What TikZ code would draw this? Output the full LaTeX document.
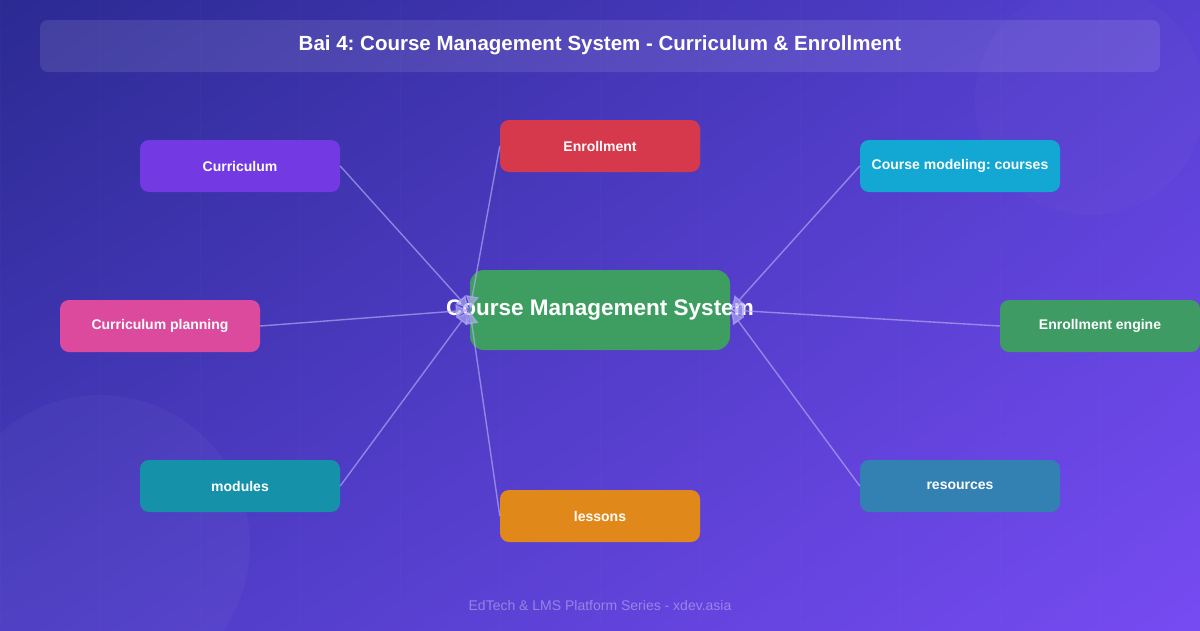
\documentclass[tikz,border=0pt]{standalone}
\usepackage{fontspec}
\setmainfont{Liberation Sans}
\usetikzlibrary{arrows.meta,positioning,calc,shadings}
\frenchspacing

\definecolor{bgTL}{HTML}{2B2A92}
\definecolor{bgTR}{HTML}{5640D2}
\definecolor{bgBL}{HTML}{4A3BC2}
\definecolor{bgBR}{HTML}{774BF2}
\definecolor{linkcol}{HTML}{B4AEF5}
\definecolor{cmsgreen}{HTML}{3E9E62}
\definecolor{enrred}{HTML}{D6394B}
\definecolor{curpurple}{HTML}{7339E2}
\definecolor{modcyan}{HTML}{13A8D3}
\definecolor{planpink}{HTML}{DB4A9C}
\definecolor{enggreen}{HTML}{3D9B63}
\definecolor{modteal}{HTML}{1591A9}
\definecolor{lesorange}{HTML}{E0891A}
\definecolor{resblue}{HTML}{3380B2}

\begin{document}
\begin{tikzpicture}[x=1pt,y=-1pt,
	box/.style={rounded corners=9pt,minimum width=200pt,minimum height=52pt,
		text=white,font=\fontsize{14}{16}\selectfont\bfseries,inner sep=0pt},
	hub/.style={rounded corners=14pt,fill=cmsgreen,minimum width=260pt,minimum height=80pt,
		text=white,font=\fontsize{22.5}{26}\selectfont\bfseries,inner sep=0pt},
	link/.style={draw=linkcol,opacity=0.65,line width=1.4pt,
		-{Latex[length=14pt,width=14pt]}}]
	\useasboundingbox (0,0) rectangle (1200,630);
	
	% background
	\shade[upper left=bgTL,upper right=bgTR,lower left=bgBL,lower right=bgBR]
		(0,0) rectangle (1200,630);
	\draw[white,opacity=0.015,line width=1pt,step=100] (0,0) grid (1200,630);
	\fill[white,opacity=0.03] (100,545) circle (150);
	\fill[white,opacity=0.02] (1090,100) circle (115);
	
	% title
	\fill[white,opacity=0.1,rounded corners=8pt] (40,20) rectangle (1160,72);
	\node[text=white,font=\fontsize{20.5}{24}\selectfont\bfseries] (title) at (600,45)
		{Bai 4: Course Management System - Curriculum \& Enrollment};
	
	\node[hub] (cms) at (600,310) {\makebox[0pt]{Course Management System}};
	
	\node[box,fill=enrred] (enr) at (600,146) {Enrollment};
	\node[box,fill=curpurple] (cur) at (240,166) {Curriculum};
	\node[box,fill=modcyan] (cmod) at (960,166) {Course modeling: courses};
	\node[box,fill=planpink] (plan) at (160,326) {Curriculum planning};
	\node[box,fill=enggreen] (eng) at (1100,326) {Enrollment engine};
	\node[box,fill=modteal] (mods) at (240,486) {modules};
	\node[box,fill=lesorange] (les) at (600,516) {lessons};
	\node[box,fill=resblue] (res) at (960,486) {resources};
	
	% links
	\draw[link] (cur.east) -- (cms.west);
	\draw[link] (enr.west) -- (cms.west);
	\draw[link] (plan.east) -- (cms.west);
	\draw[link] (mods.east) -- (cms.west);
	\draw[link] (les.west) -- (cms.west);
	\draw[link] (cmod.west) -- (cms.east);
	\draw[link] (eng.west) -- (cms.east);
	\draw[link] (res.west) -- (cms.east);
	
	\node[text=white,text opacity=0.35,font=\fontsize{14}{16}\selectfont] (foot) at (600,605)
		{EdTech \& LMS Platform Series - xdev.asia};
\end{tikzpicture}
\end{document}
